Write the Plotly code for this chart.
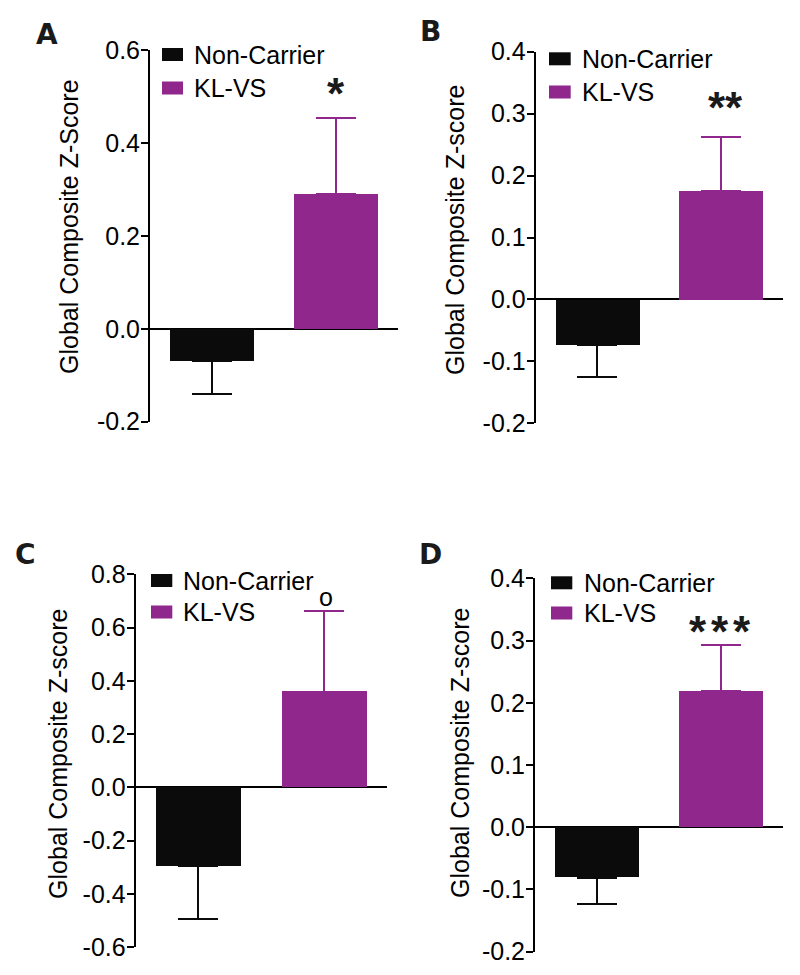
import plotly.graph_objects as go

W, H = 800, 975

# ---------------- data ----------------
groups = ["Non-Carrier", "KL-VS"]
panel_labels = ["A", "B", "C", "D"]
noncarrier_mean = [-0.069, -0.073, -0.296, -0.081]
noncarrier_sem = [0.072, 0.053, 0.198, 0.042]
klvs_mean = [0.290, 0.175, 0.360, 0.219]
klvs_sem = [0.163, 0.088, 0.302, 0.074]
significance = ["*", "**", "o", "***"]
y_titles = ["Global Composite Z-Score", "Global Composite Z-score",
            "Global Composite Z-score", "Global Composite Z-score"]
tick_labels_A = ["-0.2", "0.0", "0.2", "0.4", "0.6"]
tick_labels_B = ["-0.2", "-0.1", "0.0", "0.1", "0.2", "0.3", "0.4"]
tick_labels_C = ["-0.6", "-0.4", "-0.2", "0.0", "0.2", "0.4", "0.6", "0.8"]
tick_labels_D = ["-0.2", "-0.1", "0.0", "0.1", "0.2", "0.3", "0.4"]
tick_labels = [tick_labels_A, tick_labels_B, tick_labels_C, tick_labels_D]

# ---------------- style ----------------
colors = ["#0b0b0b", "#8f278d"]
FONT = "Liberation Sans, Arial, Helvetica, sans-serif"
FS = 25


def px(x):
    return x / W


def py(y):
    return 1 - y / H


# panel layout in pixels: axis-left, axis-right, y(top tick), y(bottom tick)
boxes = [
    (150.0, 398.0, 50.0, 421.7),
    (535.7, 782.7, 51.7, 423.3),
    (135.7, 386.7, 574.3, 947.3),
    (535.0, 783.3, 578.3, 951.7),
]
title_pos = [(69, 227), (455, 230), (58, 754), (460, 753)]
letter_pos = [(47, 35), (430, 32), (25, 554), (430, 554)]
legend_px = [  # swatch x0, x1, row1 y, row2 y, text x
    (162.0, 183.0, 54.5, 88.0, 192.0),
    (549.0, 570.7, 58.8, 92.0, 580.0),
    (151.0, 172.3, 580.5, 612.0, 181.0),
    (551.0, 572.3, 582.8, 613.0, 581.7),
]
sig_pos = [[(336, 84)], [(717, 98), (734, 98)], [(326, 597)],
           [(698, 622), (720, 622), (742, 622)]]

fig = go.Figure()
shapes = []
annotations = []

for i in range(4):
    sfx = "" if i == 0 else str(i + 1)
    xa, ya = "x" + sfx, "y" + sfx
    means = [noncarrier_mean[i], klvs_mean[i]]
    sems = [noncarrier_sem[i], klvs_sem[i]]
    for g in range(2):
        up = sems[g] if means[g] >= 0 else 0
        dn = sems[g] if means[g] < 0 else 0
        fig.add_trace(go.Bar(
            x=[groups[g]], y=[means[g]], name=groups[g],
            marker=dict(color=colors[g], line=dict(width=0)),
            width=0.677,
            error_y=dict(type="data", symmetric=False, array=[up], arrayminus=[dn],
                         color=colors[g], thickness=2, width=20),
            xaxis=xa, yaxis=ya, showlegend=False,
        ))
    x0, x1, yt, yb = boxes[i]
    labels = tick_labels[i]
    vals = [float(t) for t in labels]
    fig.layout["xaxis" + sfx] = dict(
        domain=[px(x0), px(x1)], range=[-0.5, 1.5], visible=False,
        categoryorder="array", categoryarray=groups, anchor=ya,
        fixedrange=True,
    )
    fig.layout["yaxis" + sfx] = dict(
        domain=[py(yb), py(yt)], range=[vals[0], vals[-1]], anchor=xa,
        tickvals=vals, ticktext=labels, ticks="outside", ticklen=7,
        tickwidth=2, tickcolor="black", showline=True, linewidth=2,
        linecolor="black", showgrid=False, zeroline=True, zerolinewidth=2,
        zerolinecolor="black", tickfont=dict(family=FONT, size=FS, color="black"),
        ticklabelstandoff=-4, fixedrange=True,
    )
    # y title
    tx, ty = title_pos[i]
    annotations.append(dict(
        text=y_titles[i], x=px(tx), y=py(ty), xref="paper", yref="paper",
        textangle=-90, showarrow=False, xanchor="center", yanchor="middle",
        font=dict(family=FONT, size=FS, color="black"),
    ))
    # panel letter
    lx, ly = letter_pos[i]
    annotations.append(dict(
        text="<b>" + panel_labels[i] + "</b>", x=px(lx), y=py(ly),
        xref="paper", yref="paper", showarrow=False, xanchor="center",
        yanchor="middle",
        font=dict(family="DejaVu Sans, Liberation Sans, sans-serif", size=28,
                  color="#1a1a1a"),
    ))
    # legend
    sx0, sx1, r1, r2, txl = legend_px[i]
    for g, ry in enumerate([r1, r2]):
        shapes.append(dict(
            type="rect", xref="paper", yref="paper",
            x0=px(sx0), x1=px(sx1), y0=py(ry - 6.5), y1=py(ry + 6.5),
            fillcolor=colors[g], line=dict(width=0),
        ))
        annotations.append(dict(
            text=groups[g], x=px(txl), y=py(ry), xref="paper", yref="paper",
            showarrow=False, xanchor="left", yanchor="middle",
            font=dict(family=FONT, size=FS, color="black"),
        ))
    # significance marks
    mark = significance[i]
    for (mx, my) in sig_pos[i]:
        if mark == "o":
            annotations.append(dict(
                text="o", x=px(mx), y=py(my), xref="paper", yref="paper",
                showarrow=False, xanchor="center", yanchor="middle",
                font=dict(family=FONT, size=25, color="black"),
            ))
        else:
            annotations.append(dict(
                text="<b>*</b>", x=px(mx), y=py(my + 9), xref="paper", yref="paper",
                showarrow=False, xanchor="center", yanchor="middle",
                font=dict(family=FONT, size=44, color="#1a1a1a"),
            ))

fig.update_layout(
    width=W, height=H, margin=dict(l=0, r=0, t=0, b=0, autoexpand=False),
    autosize=False,
    paper_bgcolor="white", plot_bgcolor="white",
    shapes=shapes, annotations=annotations, showlegend=False,
    bargap=0, font=dict(family=FONT, color="black"),
)

fig.write_html(
    "out.html",
    config={"responsive": False, "displayModeBar": False},
    post_script="document.body.style.margin='0';document.body.style.overflow='hidden';",
)
